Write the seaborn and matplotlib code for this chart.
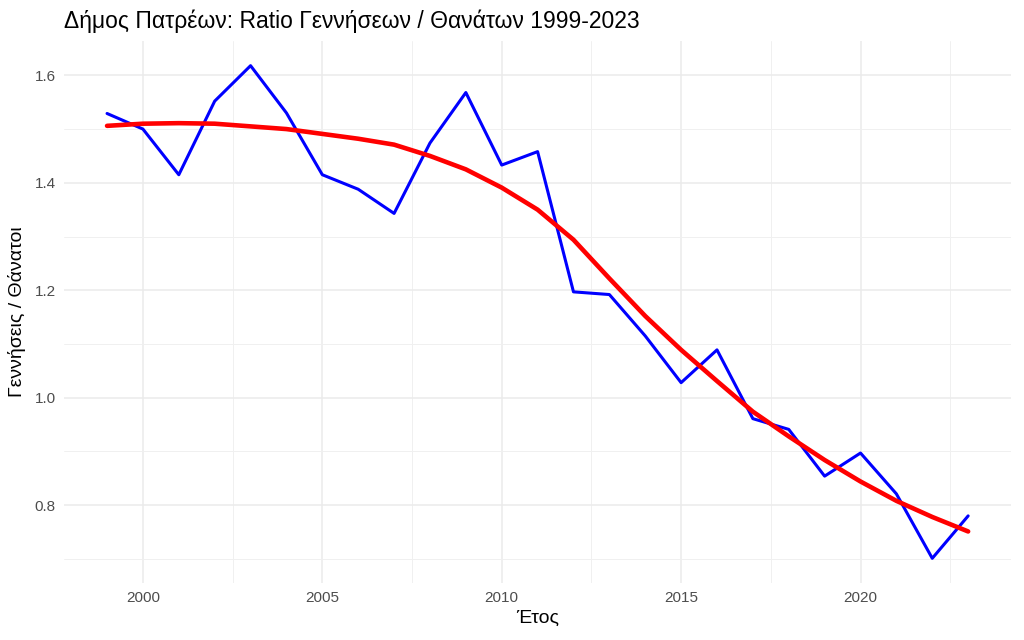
import numpy as np
import pandas as pd
import seaborn as sns
import matplotlib.pyplot as plt
from matplotlib.ticker import MultipleLocator

years = list(range(1999, 2024))
ratio = [1.529, 1.500, 1.415, 1.552, 1.618, 1.530, 1.415, 1.388, 1.343, 1.474,
         1.568, 1.433, 1.458, 1.197, 1.192, 1.115, 1.028, 1.089, 0.961, 0.941,
         0.854, 0.897, 0.821, 0.701, 0.780]
# smoothed trend
trend = [1.506, 1.510, 1.511, 1.510, 1.505, 1.500, 1.491, 1.482, 1.471, 1.450,
         1.425, 1.391, 1.350, 1.294, 1.222, 1.152, 1.089, 1.031, 0.974, 0.928,
         0.884, 0.844, 0.808, 0.778, 0.751]

df = pd.DataFrame({"year": years, "ratio": ratio, "trend": trend})

sns.set_theme(style="white")
plt.rcParams['font.family'] = ['Liberation Sans', 'DejaVu Sans']

fig = plt.figure(figsize=(10.24, 6.4), dpi=100)
ax = fig.add_axes([0.0625, 0.089, 0.925, 0.847])

sns.lineplot(data=df, x="year", y="ratio", color="blue", lw=2.2, ax=ax, zorder=3)
sns.lineplot(data=df, x="year", y="trend", color="red", lw=3.3, ax=ax, zorder=4)
ax.lines[-1].set_solid_joinstyle("round")

ax.set_xlim(1997.8, 2024.2)
ax.set_ylim(0.655, 1.664)
ax.xaxis.set_major_locator(MultipleLocator(5))
ax.xaxis.set_minor_locator(MultipleLocator(2.5))
ax.yaxis.set_major_locator(MultipleLocator(0.2))
ax.yaxis.set_minor_locator(MultipleLocator(0.1))
ax.grid(which="major", color="#EBEBEB", lw=1.1)
ax.grid(which="minor", color="#F0F0F0", lw=0.7)
ax.set_axisbelow(True)
for s in ax.spines.values():
    s.set_visible(False)
ax.tick_params(which="both", length=0, labelsize=11, labelcolor="#4D4D4D", pad=6)
ax.set_yticks([0.8, 1.0, 1.2, 1.4, 1.6])
ax.set_yticklabels(["0.8", "1.0", "1.2", "1.4", "1.6"])

ax.set_xlabel("Έτος", fontsize=14, color="black", labelpad=3)
ax.set_ylabel("Γεννήσεις / Θάνατοι", fontsize=14, color="black", labelpad=6)
ax.set_title("Δήμος Πατρέων: Ratio Γεννήσεων / Θανάτων 1999-2023", loc="left",
             fontsize=16.5, color="black", pad=9)

fig.savefig("out.png", dpi=100)
